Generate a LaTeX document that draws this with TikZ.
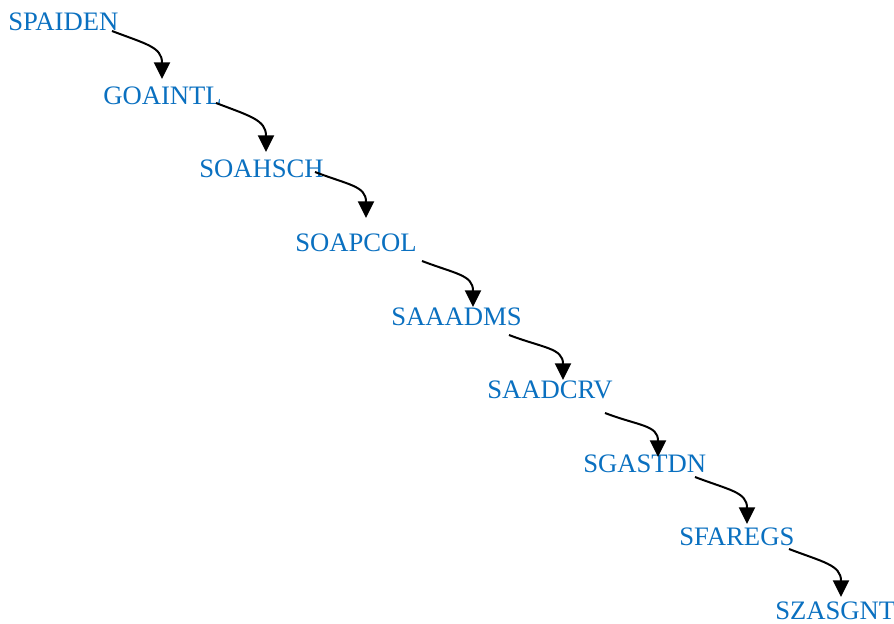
\documentclass[tikz,border=0pt]{standalone}
\usepackage{fontspec}
\setmainfont{Liberation Serif}
\usetikzlibrary{arrows.meta}
\definecolor{formblue}{HTML}{0A70C0}
\tikzset{
  form/.style={anchor=base west, inner sep=0pt, text=formblue, font=\fontsize{20pt}{23pt}\selectfont},
  flow/.style={draw=black, line width=1.5pt, -{Triangle[length=12.5pt,width=12pt]}},
}
\begin{document}
\begin{tikzpicture}[x=0.75pt, y=-0.75pt]
\useasboundingbox (0,0) rectangle (894,624);
% form names, stepping down the page
\node[form] (f1) at (8,31)   {SPAIDEN};
\node[form] (f2) at (103,105) {GOAINTL};
\node[form] (f3) at (199,178) {SOAHSCH};
\node[form] (f4) at (295,252) {SOAPCOL};
\node[form] (f5) at (391,326) {SAAADMS};
\node[form] (f6) at (487,399) {SAADCRV};
\node[form] (f7) at (583,473) {SGASTDN};
\node[form] (f8) at (679,546) {SFAREGS};
\node[form] (f9) at (775,619) {SZASGNT};
% arrow ends
\coordinate (s1) at (112,31);  \coordinate (t1) at (162,79);
\coordinate (s2) at (216,103); \coordinate (t2) at (266,152);
\coordinate (s3) at (315,172); \coordinate (t3) at (366,218);
\coordinate (s4) at (422,261); \coordinate (t4) at (473,307);
\coordinate (s5) at (509,335); \coordinate (t5) at (563,380);
\coordinate (s6) at (605,413); \coordinate (t6) at (658,457);
\coordinate (s7) at (695,477); \coordinate (t7) at (747,524);
\coordinate (s8) at (789,549); \coordinate (t8) at (841,597);
% links between consecutive forms
\foreach \i in {1,...,8}{
  \draw[flow] (s\i) .. controls +(34,13) and +(0,-32) .. (t\i);
}
\end{tikzpicture}
\end{document}
